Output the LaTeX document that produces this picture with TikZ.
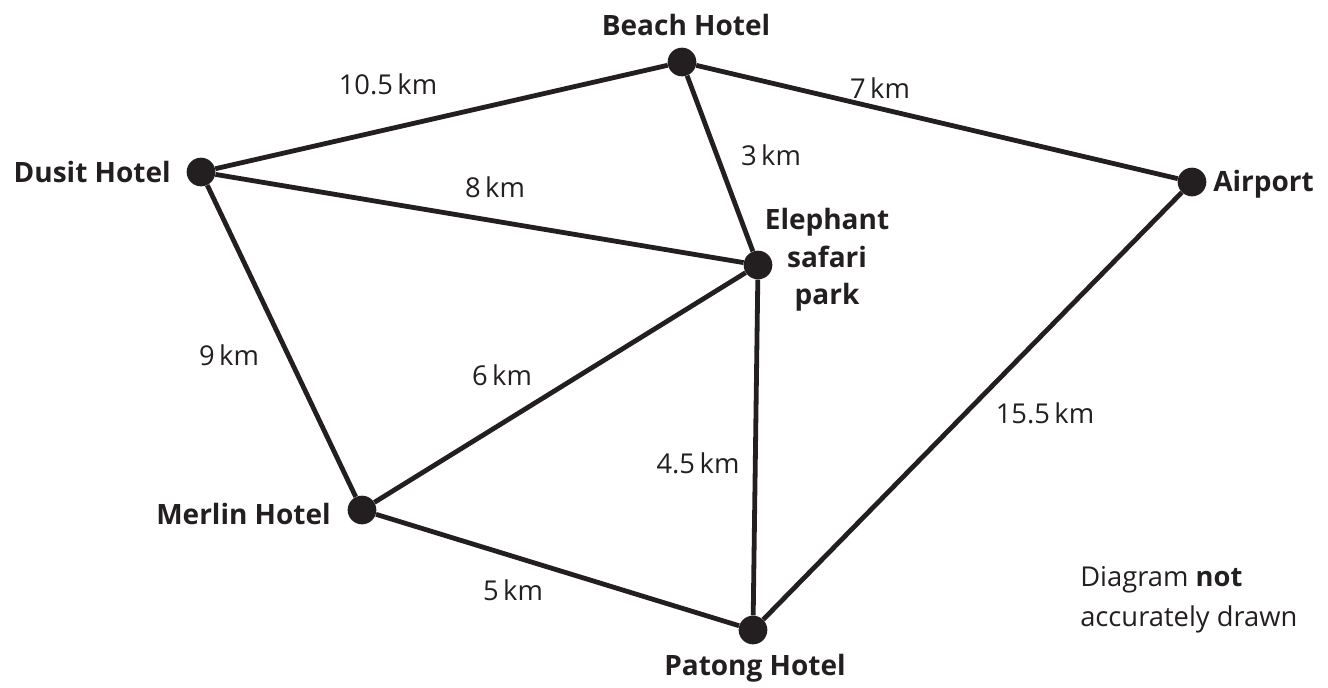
\documentclass[tikz,border=0pt]{standalone}
\usepackage{fontspec}
\setmainfont{Open Sans}
\definecolor{ink}{HTML}{231F20}
\begin{document}
\begin{tikzpicture}[x=0.75pt,y=-0.75pt,
  dot/.style={circle,fill=ink,inner sep=0pt,minimum size=21.5pt},
  edge/.style={line width=3.6pt,draw=ink},
  lbl/.style={font=\fontsize{21}{28}\selectfont\bfseries,inner sep=0pt,text=ink},
  dist/.style={font=\fontsize{20.5}{30}\selectfont,inner sep=0pt,text=ink}]
\useasboundingbox (0,0) rectangle (1328,687);
\node[dot] (B) at (682,62) {};
\node[dot] (D) at (201,172) {};
\node[dot] (A) at (1192,182) {};
\node[dot] (E) at (758,265) {};
\node[dot] (M) at (362,510) {};
\node[dot] (P) at (753,630) {};
\draw[edge] (D) -- (B);
\draw[edge] (B) -- (A);
\draw[edge] (B) -- (E);
\draw[edge] (D) -- (E);
\draw[edge] (D) -- (M);
\draw[edge] (M) -- (E);
\draw[edge] (E) -- (P);
\draw[edge] (M) -- (P);
\draw[edge] (A) -- (P);
\node[lbl] (tB) at (686,25) {Beach Hotel};
\node[lbl,anchor=east] (tD) at (171,172) {Dusit Hotel};
\node[lbl,anchor=west] (tA) at (1213,184) {Airport};
\node[lbl,align=center] (tE) at (827,260) {Elephant\\safari\\park};
\node[lbl,anchor=east] (tM) at (331,514) {Merlin Hotel};
\node[lbl] (tP) at (755,668) {Patong Hotel};
\node[dist] (d1) at (388,84) {10.5\,km};
\node[dist] (d2) at (880,88) {7\,km};
\node[dist] (d3) at (771,155) {3\,km};
\node[dist] (d4) at (495,187) {8\,km};
\node[dist] (d5) at (229,355) {9\,km};
\node[dist] (d6) at (502,375) {6\,km};
\node[dist] (d7) at (698,463) {4.5\,km};
\node[dist] (d8) at (1045,413) {15.5\,km};
\node[dist] (d9) at (513,590) {5\,km};
\node[dist,align=left,anchor=west] (note) at (1080,600) {Diagram \textbf{not}\\accurately drawn};
\end{tikzpicture}
\end{document}
